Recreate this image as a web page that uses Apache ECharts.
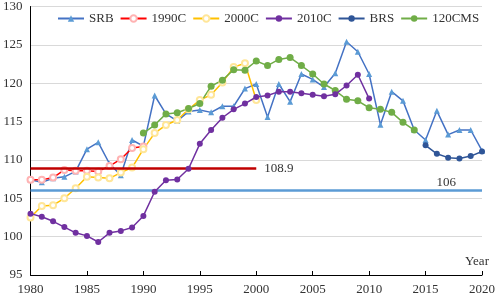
<!DOCTYPE html>
<html>
<head>
<meta charset="utf-8">
<script src="https://cdn.jsdelivr.net/npm/echarts@6/dist/echarts.min.js"></script>
<style>
  html, body { margin: 0; padding: 0; background: #fff; }
  #chart { width: 498px; height: 296px; }
</style>
</head>
<body>
<div id="chart"></div>
<script>
const years = [1980, 1981, 1982, 1983, 1984, 1985, 1986, 1987, 1988, 1989,
  1990, 1991, 1992, 1993, 1994, 1995, 1996, 1997, 1998, 1999,
  2000, 2001, 2002, 2003, 2004, 2005, 2006, 2007, 2008, 2009,
  2010, 2011, 2012, 2013, 2014, 2015, 2016, 2017, 2018, 2019, 2020]

// SRB 1980-2020
const srb = [107.4, 107.1, 107.6, 107.8, 108.5, 111.4, 112.3, 109.5, 108.0, 112.6,
  111.8, 118.4, 116.0, 115.1, 116.3, 116.5, 116.2, 117.0, 117.0, 119.3,
  119.9, 115.6, 119.9, 117.6, 121.2, 120.5, 119.5, 121.3, 125.4, 124.1,
  121.2, 114.6, 118.9, 117.7, 113.9, 112.6, 116.4, 113.3, 113.9, 113.9, 111.2]
// 1990C 1980-1990
const c1990 = [107.4, 107.4, 107.7, 108.7, 108.6, 108.6, 108.5, 109.2, 110.1, 111.55, 111.75]
// 2000C 1980-2000
const c2000 = [102.5, 104.0, 104.1, 105.0, 106.3, 107.8, 107.7, 107.6, 108.35, 109.0,
  111.4, 113.5, 114.55, 115.2, 116.6, 117.8, 118.5, 120.1, 122.1, 122.6, 117.8]
// 2010C 1980-2010
const c2010 = [103.0, 102.6, 102.0, 101.25, 100.5, 100.1, 99.3, 100.5, 100.75, 101.2,
  102.7, 105.85, 107.35, 107.45, 108.85, 112.1, 113.9, 115.5, 116.6, 117.35,
  118.2, 118.4, 118.9, 118.9, 118.7, 118.5, 118.3, 118.55, 119.7, 121.1, 118.0]
// BRS 2015-2020
const brs = [111.9, 110.8, 110.3, 110.2, 110.5, 111.1]
// 120CMS 1990-2014
const cms120 = [113.5, 114.55, 116.0, 116.15, 116.7, 117.35, 119.6, 120.4, 121.75, 121.7,
  122.9, 122.3, 123.1, 123.35, 122.3, 121.2, 119.9, 119.05, 117.9, 117.7,
  116.8, 116.6, 116.2, 114.9, 113.9]

const refLine1990 = 108.9
const refLineSRB = 106

const font = 'Liberation Serif'

function pad(startYear, values) {
  const out = years.map(() => null)
  const start = years.indexOf(startYear)
  values.forEach((v, i) => { out[start + i] = v })
  return out
}

const chart = echarts.init(document.getElementById('chart'))
chart.setOption({
  animation: false,
  textStyle: { fontFamily: font },
  grid: { left: 28, right: 12, top: 5, bottom: 19, containLabel: false },
  legend: {
    left: 57,
    top: 12,
    width: 441,
    padding: 0,
    itemWidth: 26,
    itemHeight: 8,
    itemGap: 6,
    textStyle: { fontFamily: font, fontSize: 13, color: '#333' },
    data: ['SRB', '1990C', '2000C', '2010C', 'BRS', '120CMS']
  },
  xAxis: {
    type: 'category',
    data: years,
    boundaryGap: false,
    axisLine: { lineStyle: { color: '#000', width: 1 } },
    axisTick: { inside: true, length: 4, interval: 4, lineStyle: { color: '#000' } },
    axisLabel: { interval: 4, margin: 8, fontFamily: font, fontSize: 13, color: '#333' },
    splitLine: { show: false }
  },
  yAxis: {
    type: 'value',
    min: 95,
    max: 130,
    interval: 5,
    axisLine: { show: true, lineStyle: { color: '#000', width: 1 } },
    axisTick: { show: false },
    axisLabel: { margin: 8, fontFamily: font, fontSize: 13, color: '#333' },
    splitLine: { lineStyle: { color: '#d9d9d9', width: 1 } }
  },
  graphic: [{
    type: 'text',
    left: 465,
    top: 255,
    style: { text: 'Year', font: '13px "Liberation Serif"', fill: '#333' }
  }],
  series: [{
    name: 'SRB',
    type: 'line',
    data: pad(1980, srb),
    symbol: 'triangle',
    symbolSize: 6,
    lineStyle: { color: '#4472c4', width: 1.5 },
    itemStyle: { color: '#5b9bd5' },
    z: 3,
    markLine: {
      silent: true,
      symbol: 'none',
      lineStyle: { color: '#5b9bd5', width: 2.5, type: 'solid' },
      label: {
        position: 'insideEndTop',
        formatter: String(refLineSRB),
        fontFamily: font,
        fontSize: 13,
        color: '#333',
        distance: 2,
        padding: [0, 24, 0, 0]
      },
      data: [[{ coord: [0, refLineSRB] }, { coord: [40, refLineSRB] }]]
    }
  }, {
    name: '1990C',
    type: 'line',
    data: pad(1980, c1990),
    symbol: 'emptyCircle',
    symbolSize: 6,
    lineStyle: { color: '#ff0000', width: 1.5 },
    itemStyle: { color: '#ffb3b3', borderColor: '#ff0000', borderWidth: 1.5 },
    z: 4,
    markLine: {
      silent: true,
      symbol: 'none',
      lineStyle: { color: '#c00000', width: 2.5, type: 'solid' },
      label: {
        position: 'end',
        formatter: String(refLine1990),
        fontFamily: font,
        fontSize: 13,
        color: '#333',
        distance: 8
      },
      data: [[{ coord: [0, refLine1990] }, { coord: [20, refLine1990] }]]
    }
  }, {
    name: '2000C',
    type: 'line',
    data: pad(1980, c2000),
    symbol: 'emptyCircle',
    symbolSize: 6,
    lineStyle: { color: '#ffc000', width: 1.5 },
    itemStyle: { color: '#ffe699', borderColor: '#ffc000', borderWidth: 1.5 },
    z: 4
  }, {
    name: '2010C',
    type: 'line',
    data: pad(1980, c2010),
    symbol: 'circle',
    symbolSize: 6,
    lineStyle: { color: '#7030a0', width: 1.5 },
    itemStyle: { color: '#7030a0' },
    z: 5
  }, {
    name: 'BRS',
    type: 'line',
    data: pad(2015, brs),
    symbol: 'circle',
    symbolSize: 6,
    lineStyle: { color: '#2f5597', width: 1.5 },
    itemStyle: { color: '#2f5597' },
    z: 5
  }, {
    name: '120CMS',
    type: 'line',
    data: pad(1990, cms120),
    symbol: 'circle',
    symbolSize: 7,
    lineStyle: { color: '#70ad47', width: 1.5 },
    itemStyle: { color: '#70ad47' },
    z: 4
  }]
})
</script>
</body>
</html>
